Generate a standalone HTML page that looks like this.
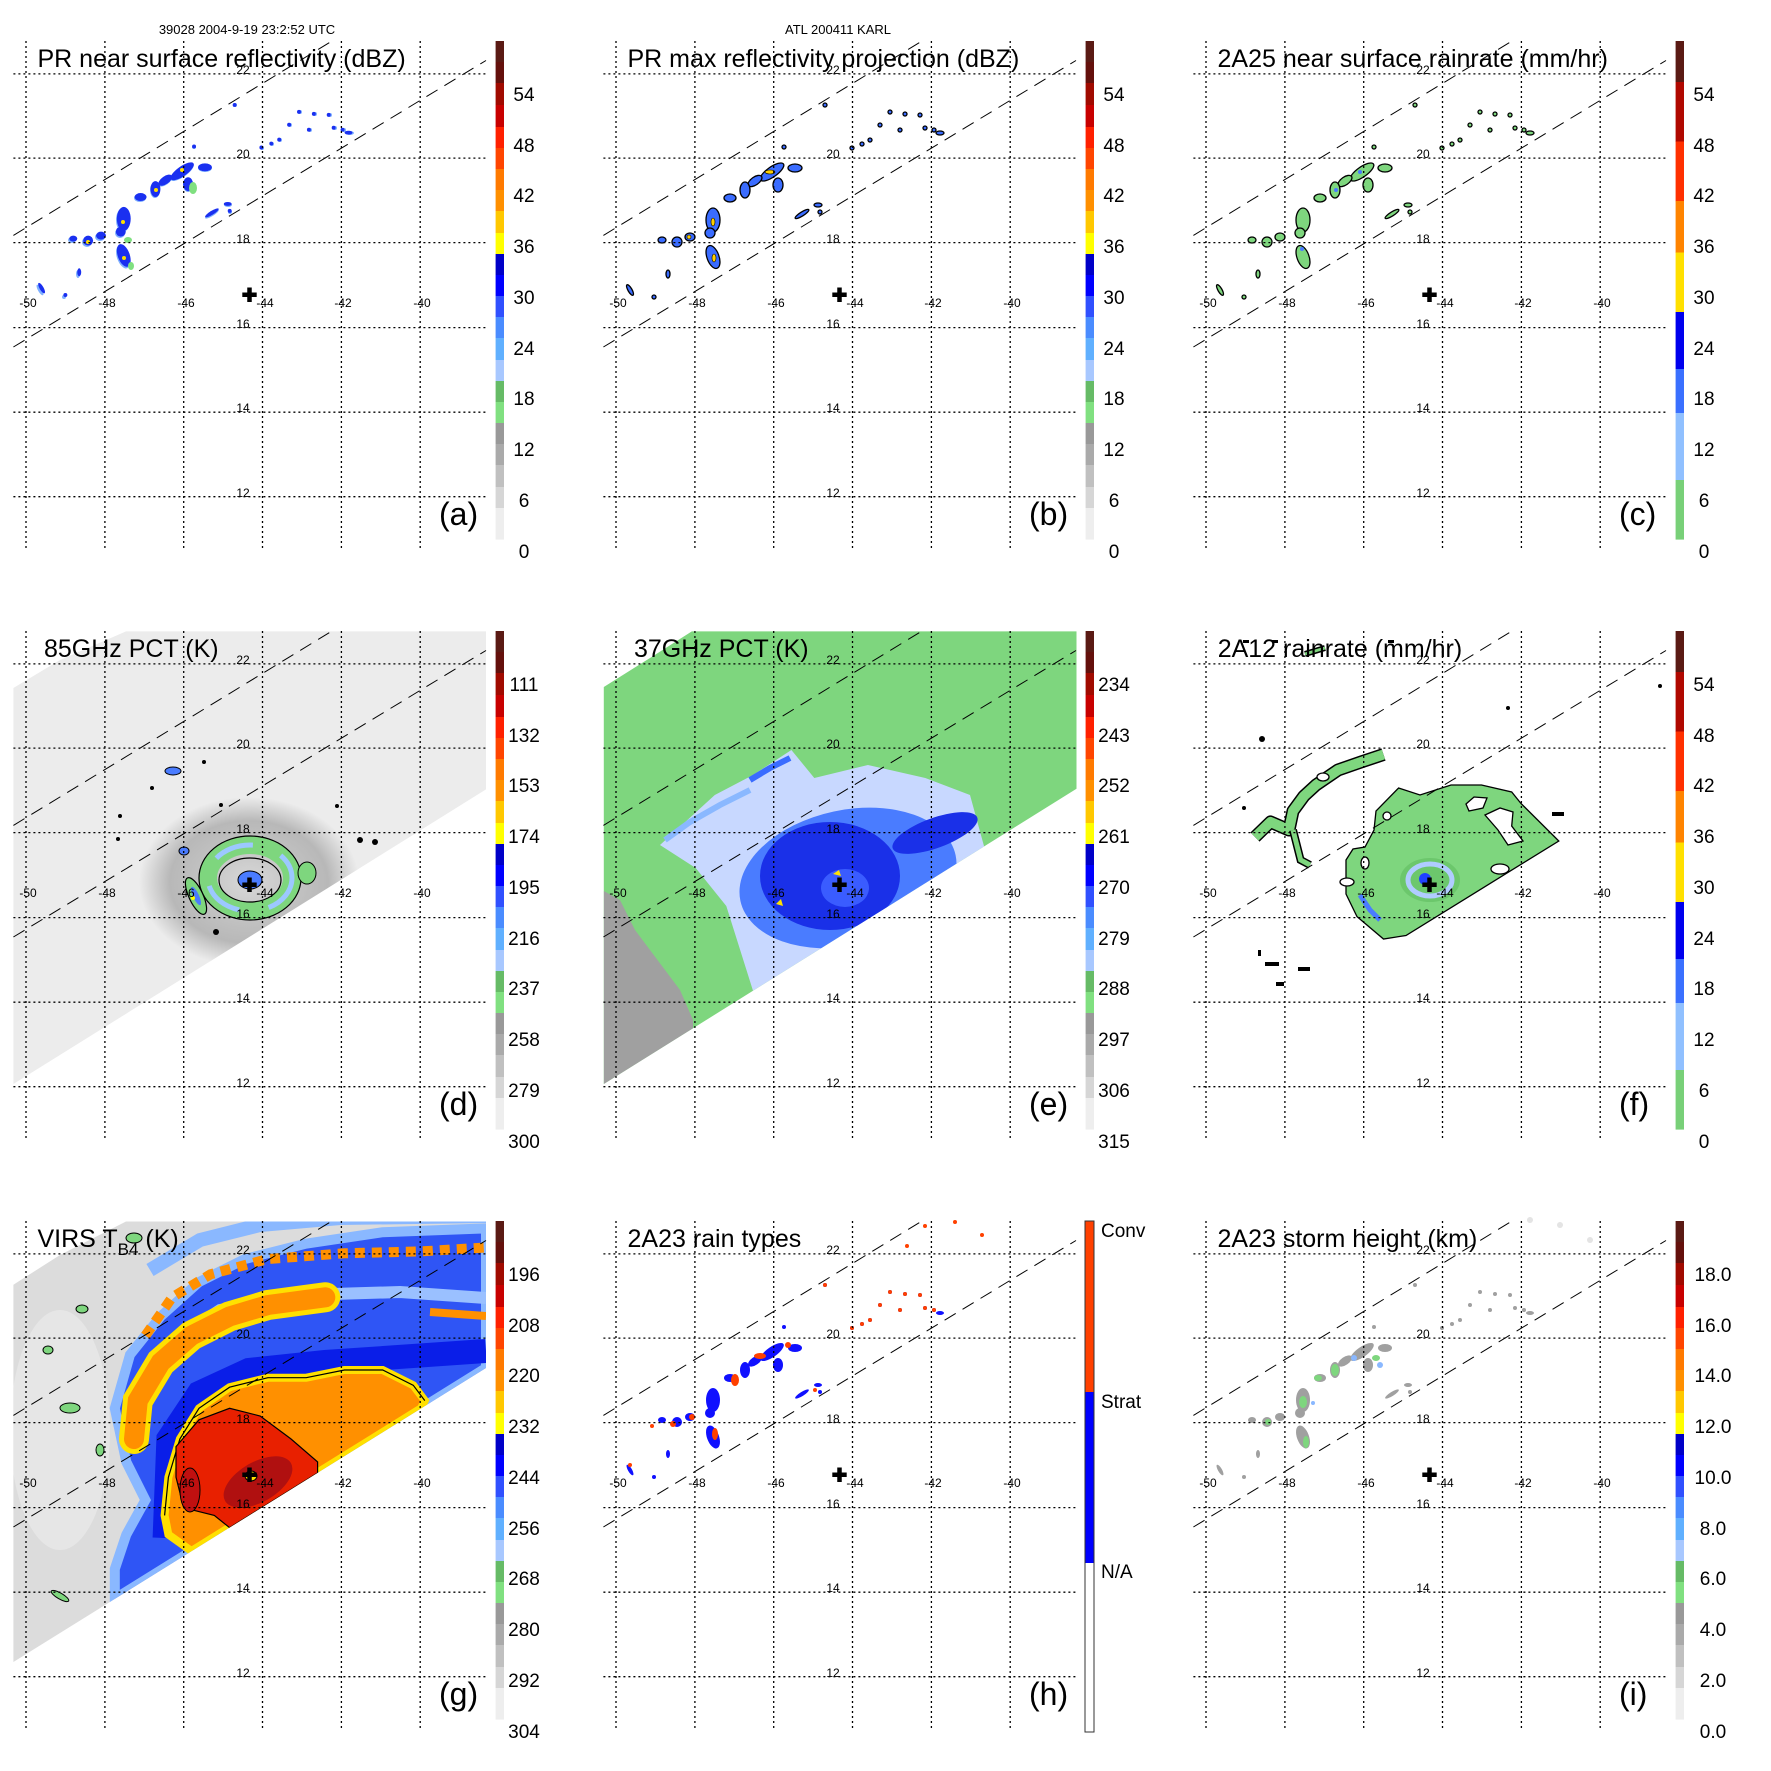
<!DOCTYPE html>
<html><head><meta charset="utf-8"><style>
html,body{margin:0;padding:0;background:#fff}
svg{display:block}
text{font-family:"Liberation Sans",Arial,sans-serif;fill:#000}
.t{font-size:25px}.l{font-size:32px}.c{font-size:19px}.k{font-size:12px}.h{font-size:13px}
</style></head><body>
<svg width="1771" height="1771" viewBox="0 0 1771 1771" xmlns="http://www.w3.org/2000/svg">
<defs>
<g id="grid">
 <g stroke="#000" stroke-width="1.3" stroke-dasharray="2,3" fill="none">
  <path d="M26 41V549M104.9 41V549M183.7 41V549M262.5 41V549M341.4 41V549M420.2 41V549"/>
  <path d="M13.4 73.9H486M13.4 158.1H486M13.4 242.6H486M13.4 327.6H486M13.4 412.2H486M13.4 496.7H486"/>
 </g>
 <g stroke="#000" stroke-width="1" stroke-dasharray="13,8" fill="none">
  <path d="M13.4 235.4L332 41"/><path d="M13.4 347L486 60.5"/>
 </g>
 <path d="M249.5 287.5V302M242.3 294.7H256.7" stroke="#000" stroke-width="4.5"/>
</g>
<g id="cbA">
 <rect x="495.6" y="41" width="8.4" height="21" fill="#5a1a14"/><rect x="495.6" y="62" width="8.4" height="21" fill="#64100c"/>
 <rect x="495.6" y="83" width="8.4" height="22" fill="#a00a00"/><rect x="495.6" y="105" width="8.4" height="22" fill="#c80000"/>
 <rect x="495.6" y="127" width="8.4" height="21" fill="#ff2000"/><rect x="495.6" y="148" width="8.4" height="21" fill="#ff4500"/>
 <rect x="495.6" y="169" width="8.4" height="21" fill="#ff7a00"/><rect x="495.6" y="190" width="8.4" height="21" fill="#ff9000"/>
 <rect x="495.6" y="211" width="8.4" height="22" fill="#ffc800"/><rect x="495.6" y="233" width="8.4" height="21" fill="#ffff00"/>
 <rect x="495.6" y="254" width="8.4" height="21" fill="#0000c8"/><rect x="495.6" y="275" width="8.4" height="21" fill="#0000ff"/>
 <rect x="495.6" y="296" width="8.4" height="21" fill="#3050ff"/><rect x="495.6" y="317" width="8.4" height="21" fill="#4a8cff"/>
 <rect x="495.6" y="338" width="8.4" height="22" fill="#60b0ff"/><rect x="495.6" y="360" width="8.4" height="21" fill="#a8c8ff"/>
 <rect x="495.6" y="381" width="8.4" height="21" fill="#66bb66"/><rect x="495.6" y="402" width="8.4" height="21" fill="#80e080"/>
 <rect x="495.6" y="423" width="8.4" height="21" fill="#999"/><rect x="495.6" y="444" width="8.4" height="21" fill="#aaa"/>
 <rect x="495.6" y="465" width="8.4" height="22" fill="#c0c0c0"/><rect x="495.6" y="487" width="8.4" height="21" fill="#d6d6d6"/>
 <rect x="495.6" y="508" width="8.4" height="31.6" fill="#eee"/>
</g>
<g id="cbC">
 <rect x="495.6" y="41" width="8.4" height="41" fill="#5a1a14"/><rect x="495.6" y="82" width="8.4" height="60" fill="#b00800"/>
 <rect x="495.6" y="141.5" width="8.4" height="60" fill="#ff3000"/><rect x="495.6" y="201" width="8.4" height="52" fill="#ff8400"/>
 <rect x="495.6" y="252.5" width="8.4" height="60" fill="#ffe000"/><rect x="495.6" y="312" width="8.4" height="57" fill="#0000ee"/>
 <rect x="495.6" y="369" width="8.4" height="44" fill="#3a70ff"/><rect x="495.6" y="413" width="8.4" height="67" fill="#90c0ff"/>
 <rect x="495.6" y="480" width="8.4" height="59.6" fill="#78d078"/>
</g>
<g id="rain">
 <ellipse cx="182" cy="172" rx="14" ry="5" transform="rotate(-35 182 172)"/>
 <ellipse cx="165" cy="181" rx="8" ry="4" transform="rotate(-35 165 181)"/>
 <ellipse cx="155" cy="190" rx="5" ry="8"/>
 <ellipse cx="140" cy="198" rx="6" ry="4"/>
 <ellipse cx="123" cy="220" rx="7" ry="12"/>
 <ellipse cx="120" cy="233" rx="5" ry="5"/>
 <ellipse cx="123" cy="257" rx="6" ry="12" transform="rotate(-20 123 257)"/>
 <ellipse cx="100" cy="237" rx="5" ry="4"/>
 <ellipse cx="87" cy="242" rx="5" ry="5"/>
 <ellipse cx="205" cy="168" rx="7" ry="4"/>
 <ellipse cx="188" cy="185" rx="5" ry="7"/>
 <ellipse cx="72" cy="240" rx="4" ry="3"/>
 <ellipse cx="78" cy="274" rx="2" ry="4"/>
 <ellipse cx="40" cy="290" rx="2" ry="6" transform="rotate(-30 40 290)"/>
 <ellipse cx="212" cy="214" rx="8" ry="2" transform="rotate(-32 212 214)"/>
 <ellipse cx="228" cy="205" rx="4" ry="2"/>
 <circle cx="300" cy="112" r="2"/><circle cx="315" cy="114" r="2"/><circle cx="330" cy="115" r="2"/>
 <circle cx="290" cy="125" r="2"/><circle cx="310" cy="130" r="2"/><circle cx="335" cy="128" r="2"/>
 <circle cx="280" cy="140" r="2"/><circle cx="344" cy="130" r="2"/><ellipse cx="350" cy="133" rx="4" ry="2"/>
 <circle cx="262" cy="148" r="2"/><circle cx="272" cy="144" r="2"/><circle cx="235" cy="105" r="2"/>
 <circle cx="194" cy="147" r="2"/><circle cx="230" cy="212" r="2"/><circle cx="64" cy="297" r="2"/>
</g>
<clipPath id="swD"><path d="M13.4 98L60 70L126 41.4H486V199.4L13.4 494Z"/></clipPath>
<clipPath id="swE"><path d="M13.8 97L60 68L101.8 41.4H486.5V198.7L13.8 494Z"/></clipPath>
<clipPath id="swG"><path d="M13.4 104.7L60 75L126 41.5H486V188L13.4 482Z"/></clipPath>
<radialGradient id="halo" cx="0.5" cy="0.5" r="0.5">
 <stop offset="0" stop-color="#d8d8d8"/><stop offset="0.5" stop-color="#c0c0c0"/><stop offset="0.72" stop-color="#b8b8b8"/><stop offset="1" stop-color="#ececec"/>
</radialGradient>
</defs>

<text class="h" x="247" y="34" text-anchor="middle">39028 2004-9-19 23:2:52 UTC</text>
<text class="h" x="838" y="34" text-anchor="middle">ATL 200411 KARL</text>

<!-- (a) -->
<g transform="translate(0,0)">
 <use href="#rain" fill="#7fb0ff"/>
 <use href="#rain" fill="#1a30f0" transform="translate(2,1) scale(0.99)"/>
 <g fill="#ffe000"><circle cx="182" cy="170" r="2"/><circle cx="123" cy="222" r="2"/><circle cx="124" cy="258" r="2"/><circle cx="156" cy="190" r="2"/><circle cx="88" cy="242" r="2"/></g>
 <g fill="#80e080"><ellipse cx="193" cy="188" rx="4" ry="6"/><ellipse cx="128" cy="240" rx="4" ry="3"/><ellipse cx="131" cy="266" rx="3" ry="4"/></g>
 <use href="#grid"/><use href="#cbA"/>
 <text class="t" x="37.5" y="67">PR near surface reflectivity (dBZ)</text>
 <text class="l" x="439" y="525">(a)</text>
</g>
<!-- (b) -->
<g transform="translate(590,0)">
 <use href="#rain" fill="#3a6cff" stroke="#000" stroke-width="1.3"/>
 <g fill="#ffd000" stroke="#000" stroke-width="0.6"><ellipse cx="180" cy="172" rx="5" ry="2"/><ellipse cx="123" cy="222" rx="2" ry="4"/><ellipse cx="124" cy="258" rx="2" ry="4"/><ellipse cx="99" cy="237" rx="2" ry="2"/></g>
 <use href="#grid"/><use href="#cbA"/>
 <text class="t" x="37.5" y="67">PR max reflectivity projection (dBZ)</text>
 <text class="l" x="439" y="525">(b)</text>
</g>
<!-- (c) -->
<g transform="translate(1180,0)">
 <use href="#rain" fill="#7ed67e" stroke="#000" stroke-width="1.3"/>
 <g fill="#4a7cff"><circle cx="156" cy="190" r="2"/><circle cx="122" cy="249" r="2"/><circle cx="180" cy="172" r="2"/></g>
 <use href="#grid"/><use href="#cbC"/>
 <text class="t" x="37.5" y="67">2A25 near surface rainrate (mm/hr)</text>
 <text class="l" x="439" y="525">(c)</text>
</g>

<!-- (d) -->
<g transform="translate(0,590)">
 <path d="M13.4 98L60 70L126 41.4H486V199.4L13.4 494Z" fill="#ececec"/>
 <g clip-path="url(#swD)">
  <ellipse cx="249" cy="292" rx="110" ry="85" fill="url(#halo)"/>
 </g>
 <ellipse cx="250" cy="288" rx="42" ry="33" fill="none" stroke="#7ed67e" stroke-width="18"/>
 <ellipse cx="250" cy="288" rx="42" ry="33" fill="none" stroke="#9cc8ff" stroke-width="5" stroke-dasharray="40,30"/>
 <ellipse cx="250" cy="288" rx="51" ry="42" fill="none" stroke="#000" stroke-width="1.2"/>
 <ellipse cx="250" cy="290" rx="31" ry="22" fill="none" stroke="#000" stroke-width="1.2"/>
 <ellipse cx="250" cy="290" rx="12" ry="9" fill="#4a7cff" stroke="#000"/>
 <ellipse cx="196" cy="306" rx="7" ry="20" transform="rotate(-25 196 306)" fill="#7ed67e" stroke="#000" stroke-width="1.2"/>
 <ellipse cx="196" cy="306" rx="3" ry="10" transform="rotate(-25 196 306)" fill="#4a7cff"/>
 <circle cx="193" cy="308" r="2" fill="#ff0"/>
 <ellipse cx="184" cy="261" rx="5" ry="4" fill="#4a7cff" stroke="#000"/>
 <ellipse cx="307" cy="283" rx="9" ry="11" fill="#7ed67e" stroke="#000"/>
 <ellipse cx="173" cy="181" rx="8" ry="4" fill="#4a7cff" stroke="#000"/>
 <g fill="#000"><circle cx="152" cy="198" r="2"/><circle cx="120" cy="226" r="2"/><circle cx="118" cy="249" r="2"/><circle cx="204" cy="172" r="2"/><circle cx="337" cy="216" r="2"/><circle cx="360" cy="250" r="3"/><circle cx="375" cy="252" r="3"/><circle cx="221" cy="215" r="2"/><circle cx="216" cy="342" r="3"/></g>
 <use href="#grid"/><use href="#cbA"/>
 <text class="t" x="44" y="67">85GHz PCT (K)</text>
 <text class="l" x="439" y="525">(d)</text>
</g>

<!-- (e) -->
<g transform="translate(590,590)">
 <path d="M13.8 97L60 68L101.8 41.4H486.5V198.7L13.8 494Z" fill="#7ed67e"/>
 <g clip-path="url(#swE)">
  <path d="M13.8 301L30 310L45 340L60 360L75 380L90 400L103 430L103 440L13.8 500Z" fill="#a0a0a0"/>
  <path d="M70 255L124.8 205L163 185L201.4 160L224.3 188L277.9 175L335.3 188L380 205L395 259.7L163 400.8L136.3 316L105.7 278Z" fill="#c8d8ff"/>
  <path d="M75 250L100 232L130 215L160 200" stroke="#8ab8ff" stroke-width="6" fill="none"/>
  <ellipse cx="258" cy="288" rx="110" ry="68" transform="rotate(-12 258 288)" fill="#4a7cff"/>
  <ellipse cx="240" cy="286" rx="70" ry="54" fill="#1a30e8"/>
  <ellipse cx="345" cy="243" rx="45" ry="15" transform="rotate(-20 345 243)" fill="#1a30e8"/>
  <ellipse cx="255" cy="298" rx="24" ry="19" fill="#3a5cff"/>
  <path d="M160 190L180 178L200 168" stroke="#3a6cff" stroke-width="6" fill="none"/>
 </g>
 <path d="M243 284l6-4l2 6z" fill="#ffe000"/><path d="M186 314l5-5l2 7z" fill="#ffe000"/>
 <use href="#grid"/><use href="#cbA"/>
 <text class="t" x="44" y="67">37GHz PCT (K)</text>
 <text class="l" x="439" y="525">(e)</text>
</g>

<!-- (f) -->
<g transform="translate(1180,590)">
 <path d="M166 270L173 259L185 257L194 240L196 221L218.6 198L240 205L271 195L301.5 195L331.7 202L341 213.5L378.8 251L226 345.5L203.5 349L177 326.6L166 304Z" fill="#7ed67e" stroke="#000" stroke-width="1.3"/>
 <path d="M286 214L294 207L307 208L303 218L289 221Z" fill="#fff" stroke="#000" stroke-width="1.3"/>
 <path d="M305 225L320 218L333 222L331.7 236L343 251L328 255L318 240Z" fill="#fff" stroke="#000" stroke-width="1.3"/>
 <ellipse cx="320" cy="279" rx="9" ry="5" fill="#fff" stroke="#000" stroke-width="1.3"/>
 <ellipse cx="185" cy="273" rx="4" ry="6" fill="#fff" stroke="#000" stroke-width="1.3"/>
 <ellipse cx="207" cy="226" rx="4" ry="4" fill="#fff" stroke="#000" stroke-width="1.3"/>
 <ellipse cx="167" cy="292" rx="7" ry="4" fill="#fff" stroke="#000" stroke-width="1.3"/>
 <ellipse cx="250" cy="290" rx="30" ry="22" fill="#6cc76c"/>
 <ellipse cx="250" cy="290" rx="22" ry="16" fill="none" stroke="#b0ccff" stroke-width="5"/>
 <ellipse cx="245" cy="289" rx="6" ry="6" fill="#2040ff"/>
 <path d="M180 305L190 320L200 330" stroke="#4a7cff" stroke-width="5" fill="none"/>
 <path d="M75 247L90.5 232L109 240L113 221L124 206L136 195L158 180L181 172L203.5 164.5" stroke="#000" stroke-width="13" fill="none" stroke-linejoin="round"/>
 <path d="M75 247L90.5 232L109 240L113 221L124 206L136 195L158 180L181 172L203.5 164.5" stroke="#7ed67e" stroke-width="10" fill="none" stroke-linejoin="round"/>
 <path d="M113 240L120.6 270L130 275" stroke="#000" stroke-width="8" fill="none"/>
 <path d="M113 240L120.6 270L130 275" stroke="#7ed67e" stroke-width="5" fill="none"/>
 <ellipse cx="143" cy="187" rx="6" ry="4" fill="#fff" stroke="#000" stroke-width="1.3"/>
 <path d="M125 64L145 58" stroke="#000" stroke-width="6"/><path d="M125 64L145 58" stroke="#7ed67e" stroke-width="3"/>
 <g fill="#000"><rect x="85" y="372" width="14" height="4"/><rect x="118" y="377" width="12" height="4"/><rect x="96" y="392" width="8" height="4"/><rect x="78" y="360" width="3" height="6"/><circle cx="82" cy="149" r="3"/><circle cx="64" cy="218" r="2"/><circle cx="328" cy="118" r="2"/><rect x="372" y="222" width="12" height="4"/><circle cx="480" cy="96" r="2"/><rect x="63" y="50" width="6" height="3"/><rect x="92" y="50" width="6" height="3"/><rect x="208" y="50" width="6" height="3"/></g>
 <use href="#grid"/><use href="#cbC"/>
 <text class="t" x="37.7" y="67">2A12 rainrate (mm/hr)</text>
 <text class="l" x="439" y="525">(f)</text>
</g>

<!-- (g) -->
<g transform="translate(0,1180)">
 <path d="M13.4 104.7L60 75L126 41.5H486V188L13.4 482Z" fill="#dcdcdc"/>
 <g clip-path="url(#swG)">
  <ellipse cx="60" cy="250" rx="50" ry="120" fill="#e6e6e6"/>
  <path d="M114.8 389L126.3 354.6L145.4 320L126.3 281.9L114.8 228.3L130 174.7L160.7 136.4L199 102L245 79L306 63.7L382.7 52.2L486 48.4V188L114.8 418.9Z" fill="#2f55f5" stroke="#8ab8ff" stroke-width="10"/>
  <path d="M150 90L200 60L260 45L340 38L486 36" stroke="#8ab8ff" stroke-width="14" fill="none"/>
  <path d="M175 160L220 130L300 115L400 112L486 118" stroke="#9ac0ff" stroke-width="12" fill="none"/>
  <path d="M164.6 358L168.4 259L199 213L248.8 190L325 182L486 171" stroke="#0a1ee8" stroke-width="24" fill="none"/>
  <path d="M145.4 155.6L172.2 117.3L210.5 94.3L267.9 79L344.4 73.3L421 71.4L486 67.5" stroke="#ff9000" stroke-width="10" stroke-dasharray="10,7" fill="none"/>
  <path d="M134 259L137.8 220.6L160.7 182.4L191.4 155.6L229.6 136.4L267.9 125L325.3 117.3" stroke="#ffe000" stroke-width="30" fill="none" stroke-linecap="round"/>
  <path d="M134 259L137.8 220.6L160.7 182.4L191.4 155.6L229.6 136.4L267.9 125L325.3 117.3" stroke="#ff9000" stroke-width="20" fill="none" stroke-linecap="round"/>
  <path d="M430 132L486 136" stroke="#ff9000" stroke-width="8" fill="none"/>
  <path d="M164.6 335.4L168.4 297.2L179.9 258.9L199 228.3L229.6 207.2L267.9 197.7L306.2 197.7L344.4 190L382.7 190L413.3 205.3L424.8 220.6L421 228.3L191.4 371L168.4 354.6Z" fill="#ff9000" stroke="#ffe000" stroke-width="8"/>
  <path d="M164.6 335.4L168.4 297.2L179.9 258.9L199 228.3L229.6 207.2L267.9 197.7L306.2 197.7L344.4 190L382.7 190L413.3 205.3L424.8 220.6" fill="none" stroke="#000" stroke-width="1.2"/>
  <path d="M176 266.6L199 239.8L229.6 228.3L260.2 236L290.9 258.9L317.6 281.9L317.6 293L229.6 347.7L214.3 335.4L183.7 327.8L176 297.2Z" fill="#e82000" stroke="#000" stroke-width="1.2"/>
  <ellipse cx="258" cy="302" rx="38" ry="20" transform="rotate(-30 258 302)" fill="#b01010"/>
  <ellipse cx="190" cy="310" rx="10" ry="22" fill="#c01010" stroke="#000"/>
  <ellipse cx="251" cy="296" rx="6" ry="5" fill="#ffe000" stroke="#000"/>
 </g>
 <g fill="#7ed67e" stroke="#000" stroke-width="1"><ellipse cx="134" cy="58" rx="8" ry="5"/><ellipse cx="82" cy="129" rx="6" ry="4"/><ellipse cx="70" cy="228" rx="10" ry="5"/><ellipse cx="60" cy="416" rx="10" ry="3" transform="rotate(30 60 416)"/><ellipse cx="100" cy="270" rx="4" ry="6"/><ellipse cx="48" cy="170" rx="5" ry="4"/></g>
 <use href="#grid"/><use href="#cbA"/>
 <text class="t" x="37.5" y="67">VIRS T<tspan font-size="17" dy="8">B4</tspan><tspan dy="-8"> (K)</tspan></text>
 <text class="l" x="439" y="525">(g)</text>
</g>

<!-- (h) -->
<g transform="translate(590,1180)">
 <use href="#rain" fill="#1010ff"/>
 <g fill="#ff4000"><ellipse cx="170" cy="176" rx="6" ry="3"/><ellipse cx="145" cy="200" rx="4" ry="6"/><ellipse cx="125" cy="254" rx="3" ry="6"/><circle cx="102" cy="237" r="3"/><circle cx="83" cy="244" r="3"/><circle cx="198" cy="165" r="3"/><circle cx="300" cy="112" r="2"/><circle cx="315" cy="114" r="2"/><circle cx="330" cy="115" r="2"/><circle cx="290" cy="125" r="2"/><circle cx="310" cy="130" r="2"/><circle cx="335" cy="128" r="2"/><circle cx="280" cy="140" r="2"/><circle cx="344" cy="130" r="2"/><circle cx="262" cy="148" r="2"/><circle cx="272" cy="144" r="2"/><circle cx="235" cy="105" r="2"/><circle cx="335" cy="46" r="2"/><circle cx="365" cy="42" r="2"/><circle cx="392" cy="55" r="2"/><circle cx="317" cy="66" r="2"/><circle cx="40" cy="285" r="2"/><circle cx="62" cy="246" r="2"/><circle cx="225" cy="210" r="2"/></g>
 <use href="#grid"/>
 <rect x="495" y="41" width="9" height="171" fill="#ff4000"/>
 <rect x="495" y="212" width="9" height="171" fill="#0000ff"/>
 <rect x="495" y="41" width="9" height="511" fill="none" stroke="#333" stroke-width="1"/>
 <text class="c" x="511" y="57" font-size="22">Conv</text>
 <text class="c" x="511" y="228" font-size="22">Strat</text>
 <text class="c" x="511" y="398" font-size="22">N/A</text>
 <text class="t" x="37.5" y="67">2A23 rain types</text>
 <text class="l" x="439" y="525">(h)</text>
</g>

<!-- (i) -->
<g transform="translate(1180,1180)">
 <use href="#rain" fill="#a0a0a0"/>
 <g fill="#7ed67e"><ellipse cx="155" cy="190" rx="4" ry="6"/><ellipse cx="123" cy="222" rx="4" ry="6"/><ellipse cx="126" cy="262" rx="3" ry="6"/><ellipse cx="138" cy="198" rx="4" ry="3"/><ellipse cx="88" cy="242" rx="3" ry="3"/><ellipse cx="196" cy="178" rx="4" ry="3"/></g>
 <g fill="#8ab8ff"><circle cx="174" cy="178" r="3"/><circle cx="133" cy="223" r="2"/><circle cx="200" cy="185" r="3"/></g>
 <g fill="#e4e4e4"><circle cx="350" cy="40" r="3"/><circle cx="380" cy="45" r="3"/><circle cx="410" cy="60" r="3"/></g>
 <use href="#grid"/><use href="#cbA"/>
 <text class="t" x="37.5" y="67">2A23 storm height (km)</text>
 <text class="l" x="439" y="525">(i)</text>
</g>

<!-- grid tick labels -->
<g class="k" text-anchor="middle" font-size="12">
 <g transform="translate(0,0)">
  <text x="243" y="74">22</text><text x="243" y="158">20</text><text x="243" y="243">18</text><text x="243" y="328">16</text><text x="243" y="412">14</text><text x="243" y="497">12</text>
  <text x="28" y="307">-50</text><text x="107" y="307">-48</text><text x="186" y="307">-46</text><text x="265" y="307">-44</text><text x="343" y="307">-42</text><text x="422" y="307">-40</text>
 </g>
 <g transform="translate(590,0)">
  <text x="243" y="74">22</text><text x="243" y="158">20</text><text x="243" y="243">18</text><text x="243" y="328">16</text><text x="243" y="412">14</text><text x="243" y="497">12</text>
  <text x="28" y="307">-50</text><text x="107" y="307">-48</text><text x="186" y="307">-46</text><text x="265" y="307">-44</text><text x="343" y="307">-42</text><text x="422" y="307">-40</text>
 </g>
 <g transform="translate(1180,0)">
  <text x="243" y="74">22</text><text x="243" y="158">20</text><text x="243" y="243">18</text><text x="243" y="328">16</text><text x="243" y="412">14</text><text x="243" y="497">12</text>
  <text x="28" y="307">-50</text><text x="107" y="307">-48</text><text x="186" y="307">-46</text><text x="265" y="307">-44</text><text x="343" y="307">-42</text><text x="422" y="307">-40</text>
 </g>
 <g transform="translate(0,590)">
  <text x="243" y="74">22</text><text x="243" y="158">20</text><text x="243" y="243">18</text><text x="243" y="328">16</text><text x="243" y="412">14</text><text x="243" y="497">12</text>
  <text x="28" y="307">-50</text><text x="107" y="307">-48</text><text x="186" y="307">-46</text><text x="265" y="307">-44</text><text x="343" y="307">-42</text><text x="422" y="307">-40</text>
 </g>
 <g transform="translate(590,590)">
  <text x="243" y="74">22</text><text x="243" y="158">20</text><text x="243" y="243">18</text><text x="243" y="328">16</text><text x="243" y="412">14</text><text x="243" y="497">12</text>
  <text x="28" y="307">-50</text><text x="107" y="307">-48</text><text x="186" y="307">-46</text><text x="265" y="307">-44</text><text x="343" y="307">-42</text><text x="422" y="307">-40</text>
 </g>
 <g transform="translate(1180,590)">
  <text x="243" y="74">22</text><text x="243" y="158">20</text><text x="243" y="243">18</text><text x="243" y="328">16</text><text x="243" y="412">14</text><text x="243" y="497">12</text>
  <text x="28" y="307">-50</text><text x="107" y="307">-48</text><text x="186" y="307">-46</text><text x="265" y="307">-44</text><text x="343" y="307">-42</text><text x="422" y="307">-40</text>
 </g>
 <g transform="translate(0,1180)">
  <text x="243" y="74">22</text><text x="243" y="158">20</text><text x="243" y="243">18</text><text x="243" y="328">16</text><text x="243" y="412">14</text><text x="243" y="497">12</text>
  <text x="28" y="307">-50</text><text x="107" y="307">-48</text><text x="186" y="307">-46</text><text x="265" y="307">-44</text><text x="343" y="307">-42</text><text x="422" y="307">-40</text>
 </g>
 <g transform="translate(590,1180)">
  <text x="243" y="74">22</text><text x="243" y="158">20</text><text x="243" y="243">18</text><text x="243" y="328">16</text><text x="243" y="412">14</text><text x="243" y="497">12</text>
  <text x="28" y="307">-50</text><text x="107" y="307">-48</text><text x="186" y="307">-46</text><text x="265" y="307">-44</text><text x="343" y="307">-42</text><text x="422" y="307">-40</text>
 </g>
 <g transform="translate(1180,1180)">
  <text x="243" y="74">22</text><text x="243" y="158">20</text><text x="243" y="243">18</text><text x="243" y="328">16</text><text x="243" y="412">14</text><text x="243" y="497">12</text>
  <text x="28" y="307">-50</text><text x="107" y="307">-48</text><text x="186" y="307">-46</text><text x="265" y="307">-44</text><text x="343" y="307">-42</text><text x="422" y="307">-40</text>
 </g>
</g>

<!-- colorbar labels -->
<g font-size="19" text-anchor="middle">
 <g transform="translate(0,0)"><text x="524" y="101">54</text><text x="524" y="152">48</text><text x="524" y="202">42</text><text x="524" y="253">36</text><text x="524" y="304">30</text><text x="524" y="355">24</text><text x="524" y="405">18</text><text x="524" y="456">12</text><text x="524" y="507">6</text><text x="524" y="558">0</text></g>
 <g transform="translate(590,0)"><text x="524" y="101">54</text><text x="524" y="152">48</text><text x="524" y="202">42</text><text x="524" y="253">36</text><text x="524" y="304">30</text><text x="524" y="355">24</text><text x="524" y="405">18</text><text x="524" y="456">12</text><text x="524" y="507">6</text><text x="524" y="558">0</text></g>
 <g transform="translate(1180,0)"><text x="524" y="101">54</text><text x="524" y="152">48</text><text x="524" y="202">42</text><text x="524" y="253">36</text><text x="524" y="304">30</text><text x="524" y="355">24</text><text x="524" y="405">18</text><text x="524" y="456">12</text><text x="524" y="507">6</text><text x="524" y="558">0</text></g>
 <g transform="translate(0,590)"><text x="524" y="101">111</text><text x="524" y="152">132</text><text x="524" y="202">153</text><text x="524" y="253">174</text><text x="524" y="304">195</text><text x="524" y="355">216</text><text x="524" y="405">237</text><text x="524" y="456">258</text><text x="524" y="507">279</text><text x="524" y="558">300</text></g>
 <g transform="translate(590,590)"><text x="524" y="101">234</text><text x="524" y="152">243</text><text x="524" y="202">252</text><text x="524" y="253">261</text><text x="524" y="304">270</text><text x="524" y="355">279</text><text x="524" y="405">288</text><text x="524" y="456">297</text><text x="524" y="507">306</text><text x="524" y="558">315</text></g>
 <g transform="translate(1180,590)"><text x="524" y="101">54</text><text x="524" y="152">48</text><text x="524" y="202">42</text><text x="524" y="253">36</text><text x="524" y="304">30</text><text x="524" y="355">24</text><text x="524" y="405">18</text><text x="524" y="456">12</text><text x="524" y="507">6</text><text x="524" y="558">0</text></g>
 <g transform="translate(0,1180)"><text x="524" y="101">196</text><text x="524" y="152">208</text><text x="524" y="202">220</text><text x="524" y="253">232</text><text x="524" y="304">244</text><text x="524" y="355">256</text><text x="524" y="405">268</text><text x="524" y="456">280</text><text x="524" y="507">292</text><text x="524" y="558">304</text></g>
 <g transform="translate(1180,1180)"><text x="533" y="101">18.0</text><text x="533" y="152">16.0</text><text x="533" y="202">14.0</text><text x="533" y="253">12.0</text><text x="533" y="304">10.0</text><text x="533" y="355">8.0</text><text x="533" y="405">6.0</text><text x="533" y="456">4.0</text><text x="533" y="507">2.0</text><text x="533" y="558">0.0</text></g>
</g>
</svg>
</body></html>
